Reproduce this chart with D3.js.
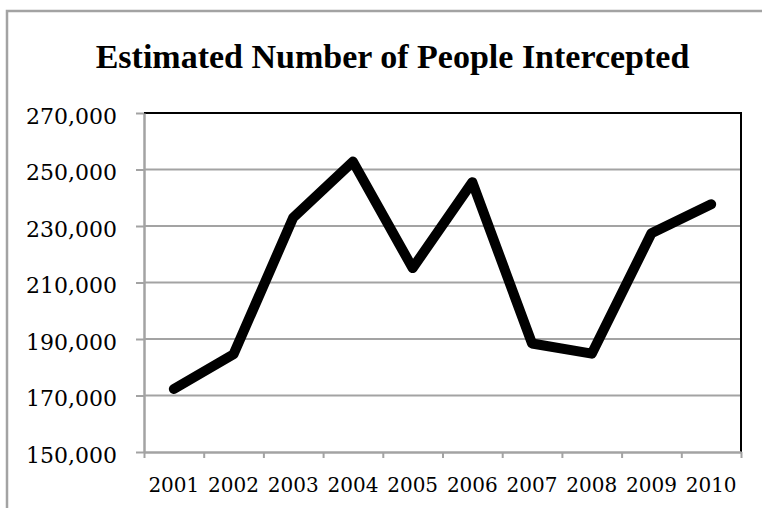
<!DOCTYPE html>
<html>
<head>
<meta charset="utf-8">
<script src="https://cdn.jsdelivr.net/npm/d3@7/dist/d3.min.js"></script>
<style>
  html, body { margin: 0; padding: 0; background: #fff; overflow: hidden; }
  svg { display: block; }
</style>
</head>
<body>
<svg id="chart" width="762" height="508"></svg>
<script>
// Estimated number of people intercepted per year
const years = ["2001", "2002", "2003", "2004", "2005", "2006", "2007", "2008", "2009", "2010"];
const intercepted = [172300, 184600, 233000, 252800, 215100, 245500, 188400, 184800, 227400, 237700];
const yTicks = [150000, 170000, 190000, 210000, 230000, 250000, 270000];
const chartTitle = "Estimated Number of People Intercepted";

const svg = d3.select("#chart");
const W = 762, H = 508;
const plot = { left: 144, right: 741, top: 113, bottom: 452 };
const grey = "#a3a3a3";

// outer chart frame: only its left and top edges fall inside the view
svg.append("path")
  .attr("d", `M7,${H + 5}V11H${W + 5}`)
  .attr("fill", "none")
  .attr("stroke", grey).attr("stroke-width", 2.5);

// title
svg.append("text")
  .attr("x", 392.5).attr("y", 68)
  .attr("text-anchor", "middle")
  .attr("font-family", "'Liberation Serif', serif")
  .attr("font-weight", "bold")
  .attr("font-size", 34)
  .attr("fill", "#000")
  .text(chartTitle);

const x = d3.scaleBand().domain(years).range([plot.left, plot.right]).padding(0);
const xEdge = d3.scaleLinear().domain([0, years.length]).range([plot.left, plot.right]);
const y = d3.scaleLinear().domain([150000, 270000]).range([plot.bottom, plot.top]);

// horizontal gridlines
svg.append("g")
  .selectAll("line")
  .data(yTicks.slice(1))
  .join("line")
  .attr("x1", plot.left).attr("x2", plot.right)
  .attr("y1", d => y(d)).attr("y2", d => y(d))
  .attr("stroke", grey).attr("stroke-width", 2);

// plot area frame: black top and right edges
svg.append("path")
  .attr("d", `M${plot.left},${plot.top}H${plot.right}V${plot.bottom}`)
  .attr("fill", "none")
  .attr("stroke", "#000").attr("stroke-width", 2);

// y axis
const yAxis = svg.append("g")
  .attr("transform", `translate(${plot.left},0)`)
  .call(d3.axisLeft(y).tickValues(yTicks).tickSize(8).tickSizeOuter(0)
    .tickFormat(d3.format(",")));
yAxis.select(".domain").attr("stroke", grey).attr("stroke-width", 2.5);
yAxis.selectAll(".tick line").attr("stroke", grey).attr("stroke-width", 2);
yAxis.selectAll(".tick text")
  .attr("x", -27)
  .attr("dy", "0.68em")
  .attr("y", -4.5)
  .attr("font-family", "'DejaVu Serif', serif")
  .attr("font-size", 22)
  .attr("fill", "#000");

// x axis: tick marks on category boundaries
const xTickAxis = svg.append("g")
  .attr("transform", `translate(0,${plot.bottom})`)
  .call(d3.axisBottom(xEdge).tickValues(d3.range(years.length + 1))
    .tickSize(6).tickSizeOuter(0).tickFormat(""));
xTickAxis.select(".domain").attr("stroke", grey).attr("stroke-width", 2.5);
xTickAxis.selectAll(".tick line").attr("stroke", grey).attr("stroke-width", 2);

// x axis: category labels centred in each band
const xLabelAxis = svg.append("g")
  .attr("transform", `translate(0,${plot.bottom})`)
  .call(d3.axisBottom(x).tickSize(0).tickSizeOuter(0));
xLabelAxis.select(".domain").remove();
xLabelAxis.selectAll(".tick text")
  .attr("y", 40)
  .attr("dy", 0)
  .attr("font-family", "'DejaVu Serif', serif")
  .attr("font-size", 20)
  .attr("fill", "#000");

// data line
const line = d3.line()
  .x((d, i) => x(years[i]) + x.bandwidth() / 2)
  .y(d => y(d));

svg.append("path")
  .datum(intercepted)
  .attr("d", line)
  .attr("fill", "none")
  .attr("stroke", "#000")
  .attr("stroke-width", 10)
  .attr("stroke-linecap", "round")
  .attr("stroke-linejoin", "round");
</script>
</body>
</html>
